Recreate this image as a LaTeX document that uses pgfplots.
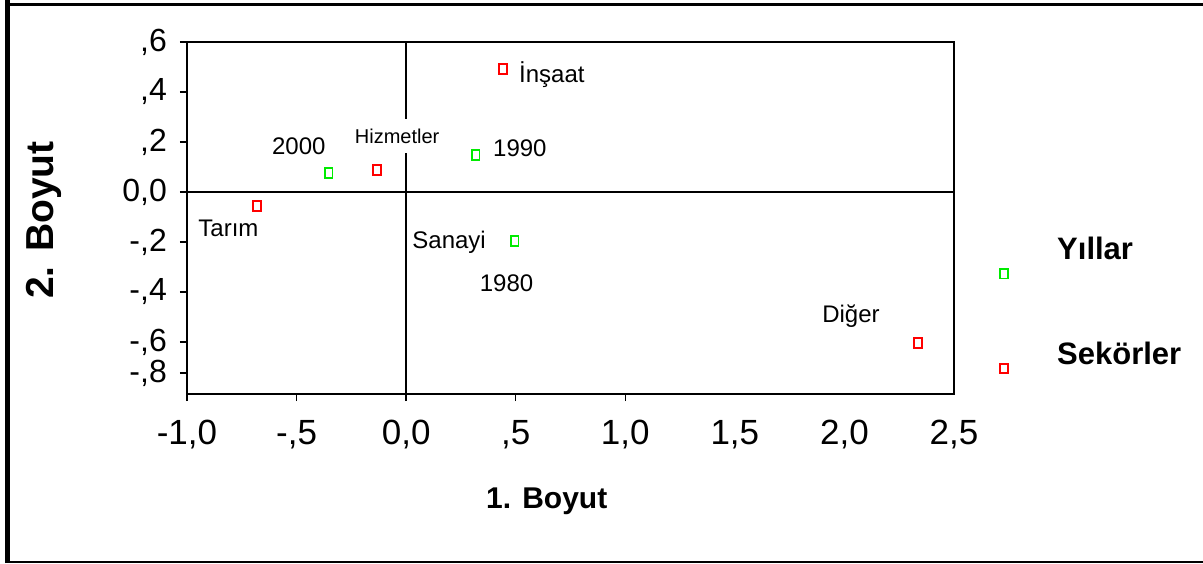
\documentclass[border=0pt]{standalone}
\usepackage{fontspec}
\setmainfont{Liberation Sans}
\usepackage{pgfplots}
\pgfplotsset{compat=1.18}
\definecolor{mred}{RGB}{255,0,0}
\definecolor{mgreen}{RGB}{0,235,0}
\pgfplotsset{
  legA/.style={legend image code/.code={\draw[##1,overlay] plot coordinates {(0pt,-25pt)}; \path[draw=none,fill=none] (0pt,0pt) -- (53pt,0pt);}},
  legB/.style={legend image code/.code={\draw[##1,overlay] plot coordinates {(0pt,-15pt)}; \path[draw=none,fill=none] (0pt,0pt) -- (53pt,0pt);}},
}
\begin{document}
\begin{tikzpicture}[x=1pt,y=1pt]
\path[use as bounding box] (0,0) rectangle (1203,563);
\draw[line width=5pt] (7.5,0) -- (7.5,563);
\draw[line width=2.7pt] (5,558.3) -- (1203,558.3);
\draw[line width=2.5pt] (5,1.25) -- (1203,1.25);
\begin{axis}[
  at={(187pt,169pt)}, anchor=south west,
  width=767pt, height=352pt, scale only axis,
  xmin=-1, xmax=2.5, ymin=-0.808, ymax=0.6,
  clip=false,
  axis line style={line width=1.6pt},
  tick style={line width=1.4pt, black},
  tick align=outside, major tick length=7pt,
  xtick pos=left, ytick pos=left,
  xtick={-1,-0.5,0,0.5,1},
  xticklabels={{-1,0},{-,5},{0,0},{,5},{1,0}},
  extra x ticks={1.5,2,2.5},
  extra x tick labels={{1,5},{2,0},{2,5}},
  extra x tick style={major tick style={draw=none}},
  ytick={-0.724,-0.6,-0.4,-0.2,0,0.2,0.4,0.6},
  yticklabels={{-,8},{-,6},{-,4},{-,2},{0,0},{,2},{,4},{,6}},
  xticklabel style={font=\fontsize{35}{38}\selectfont, inner sep=0pt},
  yticklabel style={font=\fontsize{32}{34}\selectfont, inner sep=0pt},
  xticklabel shift=19pt, yticklabel shift=13pt,
  xlabel={1. Boyut}, ylabel={2. Boyut},
  xlabel style={font=\bfseries\fontsize{30}{32}\selectfont, at={(axis description cs:0.469,-0.3239)}, anchor=base, inner sep=0pt},
  ylabel style={font=\bfseries\fontsize{39}{41}\selectfont, at={(axis description cs:-0.1747,0.4943)}, anchor=base, inner sep=0pt},
  legend style={at={(rel axis cs:1.0652,0.4477)}, anchor=north west, draw=none, fill=none, inner sep=0pt, row sep=81pt, column sep=0pt, font=\bfseries\fontsize{31}{33}\selectfont, nodes={inner sep=0pt}},
  legend cell align=left,
]
\draw[line width=1.3pt] (axis cs:0,-0.808) -- (axis cs:0,0.6);
\draw[line width=1.3pt] (axis cs:-1,0) -- (axis cs:2.5,0);
\addplot[only marks, mark=square, mark size=3.9pt, color=mgreen, line width=1.9pt, mark options={yscale=1.25}, legA]
  coordinates {(-0.354,0.075) (0.317,0.148) (0.495,-0.195)};
\addlegendentry{Yıllar}
\addplot[only marks, mark=square, mark size=3.9pt, color=mred, line width=1.9pt, mark options={yscale=1.25}, legB]
  coordinates {(-0.680,-0.055) (-0.134,0.087) (0.443,0.491) (2.337,-0.605)};
\addlegendentry{Sekörler}
\begin{scope}[every node/.style={font=\fontsize{24}{26}\selectfont, inner sep=0pt}]
\node[anchor=base] at (axis cs:-0.4897,0.148) {2000};
\node[anchor=base] at (axis cs:-0.811,-0.18) {Tarım};
\node[anchor=base] at (axis cs:0.519,0.14) {1990};
\node[anchor=base east] at (axis cs:0.3645,-0.228) {Sanayi};
\node[anchor=base] at (axis cs:0.458,-0.4) {1980};
\node[anchor=base west] at (axis cs:0.515,0.436) {İnşaat};
\node[anchor=base] at (axis cs:2.03,-0.524) {Diğer};
\node[anchor=base, fill=white, inner xsep=2pt, inner ysep=10pt, font=\fontsize{20}{22}\selectfont] at (axis cs:-0.041,0.195) {Hizmetler};
\end{scope}
\end{axis}
\end{tikzpicture}
\end{document}
